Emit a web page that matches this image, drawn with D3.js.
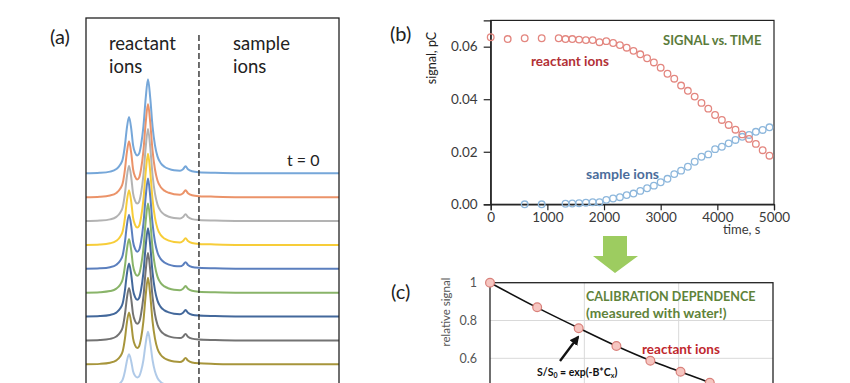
<!DOCTYPE html>
<html>
<head>
<meta charset="utf-8">
<script src="https://cdn.jsdelivr.net/npm/d3@7"></script>
<style>
  body { margin: 0; background: #fff; }
  svg { display: block; font-family: Lato, "Open Sans", sans-serif; }
</style>
</head>
<body>
<svg id="chart" width="850" height="383"></svg>
<script>
// ---- (a) stacked ion mobility spectra ----
const driftTime = [0, 1.1, 1.9, 2.4, 2.7, 2.9, 3.08, 3.22, 3.4, 3.58, 3.72, 3.88, 4.05, 4.2,
  4.35, 4.54, 4.72, 4.9, 5.08, 5.26, 5.45, 5.65, 5.9, 6.2, 6.55, 6.96, 7.43, 7.67, 7.87,
  8.06, 8.38, 8.93, 10.2, 12.17, 20];
const intensity = [0, 0.005, 0.018, 0.045, 0.09, 0.15, 0.3, 0.47, 0.6, 0.47, 0.3, 0.22, 0.19, 0.21,
  0.3, 0.5, 0.8, 1.0, 0.8, 0.5, 0.3, 0.18, 0.11, 0.07, 0.047, 0.032, 0.027, 0.043, 0.074,
  0.043, 0.021, 0.011, 0.005, 0, 0];
const traceScale = [1.0, 0.99, 0.98, 0.97, 0.96, 0.95, 0.94, 0.93, 0.92, 0.6];
const traceColors = ["#6aa0d6", "#e98a5c", "#adadad", "#f6c928", "#4d74b8", "#7fae5c",
  "#335b92", "#676767", "#a08c2a", "#a9c6e6"];
const dividerTime = 8.93;

// ---- (b) signal vs. time ----
const reactantTime = [0, 300, 600, 900, 1200, 1320, 1440, 1560, 1680, 1800, 1920, 2040, 2160, 2280,
  2400, 2520, 2640, 2760, 2880, 3000, 3120, 3240, 3360, 3480, 3600, 3720, 3840, 3960, 4080,
  4200, 4320, 4440, 4560, 4680, 4800, 4920];
const reactantSignal = [0.0636, 0.0629, 0.0632, 0.0632, 0.0632, 0.0629, 0.0629, 0.0627, 0.0625, 0.0625,
  0.0617, 0.0621, 0.0614, 0.0606, 0.0596, 0.0584, 0.0571, 0.0556, 0.0540, 0.0520, 0.0497, 0.0478,
  0.0452, 0.0432, 0.0410, 0.0386, 0.0364, 0.0340, 0.0321, 0.0302, 0.0284, 0.0266, 0.0249, 0.0230,
  0.0206, 0.0185];
const sampleTime = [600, 900, 1320, 1440, 1560, 1680, 1800, 1920, 2040, 2160, 2280, 2400, 2520, 2640,
  2760, 2880, 3000, 3120, 3240, 3360, 3480, 3600, 3720, 3840, 3960, 4080, 4200, 4320, 4440,
  4560, 4680, 4800, 4920];
const sampleSignal = [0, 0, 0.0002, 0.0003, 0.0004, 0.0006, 0.0008, 0.0008, 0.0017, 0.0022, 0.0027,
  0.0035, 0.0041, 0.0051, 0.0061, 0.0071, 0.0084, 0.0097, 0.0115, 0.0128, 0.0143, 0.0162, 0.0181,
  0.0190, 0.0210, 0.0219, 0.0232, 0.0245, 0.0257, 0.0264, 0.0276, 0.0283, 0.0293];
const timeTicks = [0, 1000, 2000, 3000, 4000, 5000];
const signalTicks = [0, 0.02, 0.04, 0.06];

// ---- (c) calibration dependence ----
const calibConc = [0, 0.5, 0.94, 1.34, 1.7, 2.02, 2.33];
const calibSignal = [1, 0.87, 0.759, 0.665, 0.587, 0.529, 0.471];
const fitConc = [0, 0.5, 0.94, 1.34, 1.7, 2.02, 2.33, 2.65, 3.0];
const fitSignal = [1, 0.868, 0.76, 0.665, 0.588, 0.529, 0.472, 0.42, 0.37];
const concGrid = [1, 2];
const relTicks = [0.6, 0.8, 1];
const relGrid = [0.4, 0.6, 0.8];

const svg = d3.select("#chart");
const ink = "#222";

// ================= panel (a) =================
const a = { left: 86, top: 18, right: 339, bottom: 400 };
const xA = d3.scaleLinear().domain([0, 20]).range([a.left, a.right]);
const yA = d3.scaleLinear().domain([0, 1]).range([173.3, 79.3]);
const stackStep = 0.254;

const gA = svg.append("g");
const spectrum = d3.range(driftTime.length).map(i => ({ t: driftTime[i], v: intensity[i] }));

traceColors.forEach((col, k) => {
  const line = d3.line()
    .x(d => xA(d.t))
    .y(d => yA(d.v * traceScale[k] - k * stackStep))
    .curve(d3.curveMonotoneX);
  gA.append("path")
    .datum(spectrum)
    .attr("d", line)
    .attr("fill", "none")
    .attr("stroke", col)
    .attr("stroke-width", 2)
    .attr("stroke-opacity", 0.92);
});

gA.append("line")
  .attr("x1", xA(dividerTime)).attr("x2", xA(dividerTime))
  .attr("y1", 35).attr("y2", 383)
  .attr("stroke", ink).attr("stroke-width", 1.3)
  .attr("stroke-dasharray", "6,3");

gA.append("rect")
  .attr("x", a.left).attr("y", a.top)
  .attr("width", a.right - a.left).attr("height", a.bottom - a.top)
  .attr("fill", "none").attr("stroke", ink).attr("stroke-width", 1.3);

const labA = gA.append("g").attr("fill", "#222").attr("font-size", 18.5);
labA.append("text").attr("x", 50).attr("y", 44).attr("font-size", 20).text("(a)");
labA.append("text").attr("x", 109).attr("y", 50).text("reactant");
labA.append("text").attr("x", 109).attr("y", 73).text("ions");
labA.append("text").attr("x", 233).attr("y", 50).text("sample");
labA.append("text").attr("x", 233).attr("y", 73).text("ions");
labA.append("text").attr("x", 287).attr("y", 166).attr("font-size", 16).text("t = 0");

// ================= panel (b) =================
const b = { left: 490.7, top: 20.4, right: 774, bottom: 204.3 };
const xB = d3.scaleLinear().domain([0, 5000]).range([b.left, b.right]);
const yB = d3.scaleLinear().domain([0, 0.07]).range([b.bottom, b.top]);
const gB = svg.append("g");

gB.append("rect")
  .attr("x", b.left).attr("y", b.top)
  .attr("width", b.right - b.left).attr("height", b.bottom - b.top)
  .attr("fill", "none").attr("stroke", ink).attr("stroke-width", 1.2);

const axB = gB.append("g")
  .attr("transform", `translate(0,${b.bottom})`)
  .call(d3.axisBottom(xB).tickValues(timeTicks).tickFormat(d3.format("d")).tickSize(6).tickPadding(2));
const ayB = gB.append("g")
  .attr("transform", `translate(${b.left},0)`)
  .call(d3.axisLeft(yB).tickValues(signalTicks).tickFormat(d3.format(".2f")).tickSize(7).tickPadding(6));
[axB, ayB].forEach(ax => {
  ax.select(".domain").attr("stroke", ink).attr("stroke-width", 1.2);
  ax.selectAll(".tick line").attr("stroke", ink).attr("stroke-width", 1.2);
  ax.selectAll("text").attr("font-size", 13.5).attr("fill", "#3a3a3a").attr("font-family", "Lato, sans-serif");
});

gB.append("g").selectAll("circle")
  .data(d3.range(sampleTime.length))
  .join("circle")
  .attr("cx", i => xB(sampleTime[i])).attr("cy", i => yB(sampleSignal[i]))
  .attr("r", 3.3).attr("fill", "none").attr("stroke", "#8db7dc").attr("stroke-width", 1.3);

gB.append("g").selectAll("circle")
  .data(d3.range(reactantTime.length))
  .join("circle")
  .attr("cx", i => xB(reactantTime[i])).attr("cy", i => yB(reactantSignal[i]))
  .attr("r", 3.3).attr("fill", "none").attr("stroke", "#e3867f").attr("stroke-width", 1.3);

gB.append("text").attr("x", 390).attr("y", 41).attr("font-size", 20).attr("fill", "#222").text("(b)");
gB.append("text")
  .attr("transform", "translate(436,58) rotate(-90)")
  .attr("text-anchor", "middle").attr("font-size", 12.5).attr("fill", "#222")
  .text("signal, pC");
gB.append("text").attr("x", 723).attr("y", 234).attr("font-size", 13).attr("fill", "#3a3a3a").text("time, s");
gB.append("text").attr("x", 663).attr("y", 45).attr("font-size", 13).attr("font-weight", 700)
  .attr("fill", "#5b7b3b").text("SIGNAL vs. TIME");
gB.append("text").attr("x", 531).attr("y", 66).attr("font-size", 13.5).attr("font-weight", 700)
  .attr("fill", "#b23035").text("reactant ions");
gB.append("text").attr("x", 586).attr("y", 179).attr("font-size", 14).attr("font-weight", 700)
  .attr("fill", "#4b6d9b").text("sample ions");

// green arrow between (b) and (c)
svg.append("path")
  .attr("d", "M603,236 L627,236 L627,256 L638,256 L615,273 L593,256 L603,256 Z")
  .attr("fill", "#9dcc60");

// ================= panel (c) =================
const c = { left: 490, top: 282.7, right: 773, bottom: 471.7 };
const xC = d3.scaleLinear().domain([0, 3]).range([c.left, c.right]);
const yC = d3.scaleLinear().domain([0, 1]).range([c.bottom, c.top]);
const gC = svg.append("g");

gC.append("g").selectAll("line")
  .data(relGrid)
  .join("line")
  .attr("x1", c.left).attr("x2", c.right)
  .attr("y1", d => yC(d)).attr("y2", d => yC(d))
  .attr("stroke", "#d9d9d9").attr("stroke-width", 1);
gC.append("g").selectAll("line")
  .data(concGrid)
  .join("line")
  .attr("x1", d => xC(d)).attr("x2", d => xC(d))
  .attr("y1", c.top).attr("y2", c.bottom)
  .attr("stroke", "#d9d9d9").attr("stroke-width", 1);

gC.append("rect")
  .attr("x", c.left).attr("y", c.top)
  .attr("width", c.right - c.left).attr("height", c.bottom - c.top)
  .attr("fill", "none").attr("stroke", ink).attr("stroke-width", 1.3);

const ayC = gC.append("g")
  .attr("transform", `translate(${c.left},0)`)
  .call(d3.axisLeft(yC).tickValues(relTicks).tickFormat(d3.format("~g")).tickSize(0).tickPadding(13));
ayC.select(".domain").remove();
ayC.selectAll("text").attr("font-size", 12.5).attr("fill", "#555").attr("font-family", "Lato, sans-serif");

const fit = d3.range(fitConc.length).map(i => ({ c: fitConc[i], s: fitSignal[i] }));
gC.append("path")
  .datum(fit)
  .attr("d", d3.line().x(d => xC(d.c)).y(d => yC(d.s)).curve(d3.curveMonotoneX))
  .attr("fill", "none").attr("stroke", "#111").attr("stroke-width", 1.6);

gC.append("g").selectAll("circle")
  .data(d3.range(calibConc.length))
  .join("circle")
  .attr("cx", i => xC(calibConc[i])).attr("cy", i => yC(calibSignal[i]))
  .attr("r", 4.4).attr("fill", "#f6c6c1").attr("stroke", "#d9817b").attr("stroke-width", 1.2);

// annotation arrow
svg.append("defs").append("marker")
  .attr("id", "head").attr("viewBox", "0 0 10 10")
  .attr("refX", 8).attr("refY", 5)
  .attr("markerWidth", 4).attr("markerHeight", 4)
  .attr("orient", "auto")
  .append("path").attr("d", "M0,0 L10,5 L0,10 Z").attr("fill", "#111");
gC.append("line")
  .attr("x1", 560).attr("y1", 361).attr("x2", 578).attr("y2", 337)
  .attr("stroke", "#111").attr("stroke-width", 2.4)
  .attr("marker-end", "url(#head)");

gC.append("text").attr("x", 391).attr("y", 299).attr("font-size", 20).attr("fill", "#222").text("(c)");
gC.append("text")
  .attr("transform", "translate(450,312) rotate(-90)")
  .attr("text-anchor", "middle").attr("font-size", 11.5).attr("fill", "#555")
  .text("relative signal");
gC.append("text").attr("x", 586).attr("y", 301).attr("font-size", 12.6).attr("font-weight", 700)
  .attr("fill", "#5f833a").text("CALIBRATION DEPENDENCE");
gC.append("text").attr("x", 586).attr("y", 318).attr("font-size", 13.8).attr("font-weight", 700)
  .attr("fill", "#5f833a").text("(measured with water!)");
gC.append("text").attr("x", 642).attr("y", 354).attr("font-size", 13.5).attr("font-weight", 700)
  .attr("fill", "#c0272d").text("reactant ions");
const eq = gC.append("text").attr("x", 537).attr("y", 376).attr("font-size", 10.5).attr("font-weight", 700)
  .attr("fill", "#111");
eq.append("tspan").text("S/S");
eq.append("tspan").attr("font-size", 7).attr("dy", 2).text("0");
eq.append("tspan").attr("dy", -2).text(" = exp(-B*C");
eq.append("tspan").attr("font-size", 7).attr("dy", 2).text("x");
eq.append("tspan").attr("dy", -2).text(")");
</script>
</body>
</html>
